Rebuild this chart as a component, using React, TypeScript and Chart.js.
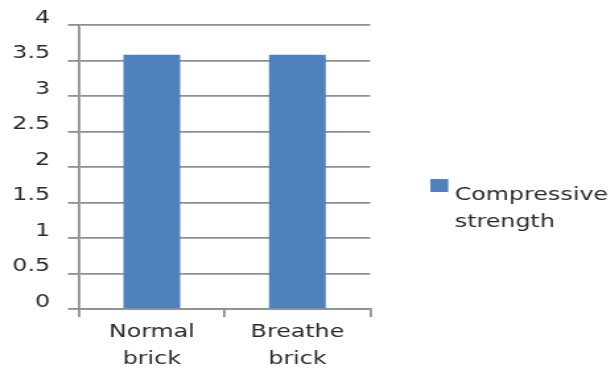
import React, { useEffect, useRef } from 'react';
import { Chart, registerables } from 'chart.js';

Chart.register(...registerables);

const categories: string[][] = [['Normal', 'brick'], ['Breathe', 'brick']];
const seriesLines: string[] = ['Compressive', 'strength'];
const compressiveStrength: number[] = [3.58, 3.58];
const yMin = 0;
const yMax = 4;
const yStep = 0.5;

const SX = 1.32;
const W = 611 / SX;
const H = 369;
const FONT = '"DejaVu Sans", Verdana, sans-serif';
const TEXT = '#2a2a2a';
const GRID = '#8f8f8f';
const BAR = '#4F81BD';

export default function App() {
  const ref = useRef<HTMLCanvasElement>(null);

  useEffect(() => {
    if (!ref.current) return;
    const sideLegend = {
      id: 'sideLegend',
      afterDraw(chart: any) {
        const ctx = chart.ctx;
        const ds = chart.data.datasets[0];
        ctx.save();
        ctx.fillStyle = ds.backgroundColor;
        ctx.fillRect(326, 179, 13.6, 13);
        ctx.fillStyle = TEXT;
        ctx.font = `18px ${FONT}`;
        ctx.textBaseline = 'alphabetic';
        ctx.textAlign = 'left';
        seriesLines.forEach((line, i) => ctx.fillText(line, 344.5, 200 + i * 27));
        ctx.restore();
      },
    };

    const chart = new Chart(ref.current, {
      type: 'bar',
      data: {
        labels: categories,
        datasets: [
          {
            label: seriesLines.join(' '),
            data: compressiveStrength,
            backgroundColor: BAR,
            borderWidth: 0,
            categoryPercentage: 1,
            barPercentage: 0.39,
          },
        ],
      },
      options: {
        animation: false,
        responsive: false,
        devicePixelRatio: 1,
        layout: { padding: { top: 25, right: W - 370 / SX, bottom: 0, left: 0 } },
        plugins: {
          legend: { display: false },
          tooltip: { enabled: false },
        },
        scales: {
          x: {
            offset: true,
            grid: {
              offset: true,
              drawOnChartArea: false,
              tickLength: 8,
              color: GRID,
              lineWidth: 1.8,
            },
            border: { color: GRID, width: 1.8 },
            ticks: {
              color: TEXT,
              font: { family: FONT, size: 18, lineHeight: 1.5 },
              padding: 2,
              maxRotation: 0,
              autoSkip: false,
            },
            afterFit(scale: any) {
              scale.height = 60;
            },
          },
          y: {
            min: yMin,
            max: yMax,
            grid: {
              color: GRID,
              lineWidth: 1.8,
              tickLength: 8.3,
            },
            border: { color: GRID, width: 1.8 },
            ticks: {
              stepSize: yStep,
              color: TEXT,
              font: { family: FONT, size: 18 },
              padding: 13.6,
              labelOffset: -7,
              callback: (v: any) => String(Number(v)),
            },
            afterFit(scale: any) {
              scale.width = 79 / SX;
            },
          },
        },
      },
      plugins: [sideLegend],
    });
    return () => chart.destroy();
  }, []);

  return (
    <div
      style={{
        position: 'fixed',
        left: 0,
        top: 0,
        width: 611,
        height: 369,
        overflow: 'hidden',
        background: '#fff',
      }}
    >
      <div style={{ width: W, height: H, transform: `scaleX(${SX})`, transformOrigin: '0 0' }}>
        <canvas ref={ref} width={Math.round(W)} height={H} />
      </div>
    </div>
  );
}
